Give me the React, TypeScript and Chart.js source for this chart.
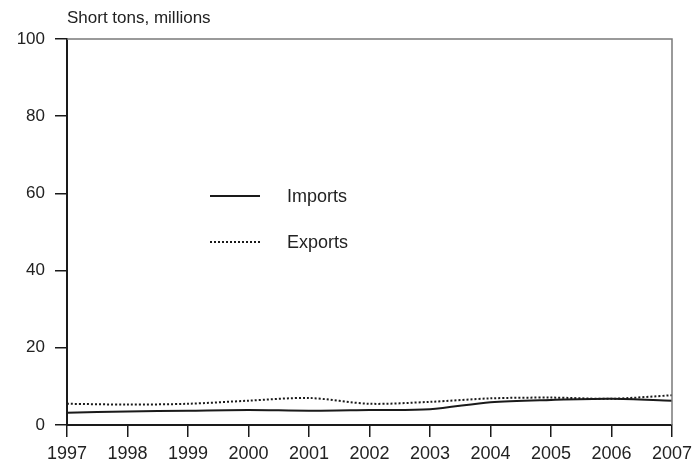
import React, { useEffect, useRef } from "react";
import { Chart, registerables } from "chart.js";

Chart.register(...registerables);

const years = ["1997", "1998", "1999", "2000", "2001", "2002", "2003", "2004", "2005", "2006", "2007"];
const imports = [3.2, 3.5, 3.7, 3.9, 3.7, 3.9, 4.1, 5.9, 6.5, 6.8, 6.3];
const exportsData = [5.5, 5.3, 5.5, 6.3, 7.0, 5.5, 6.0, 6.9, 7.1, 6.8, 7.7];
const yTicks = [0, 20, 40, 60, 80, 100];
const unitLabel = "Short tons, millions";
const legendLabels = ["Imports", "Exports"];

const FONT = "'Liberation Sans', Arial, sans-serif";

const decor = {
  id: "decor",
  afterDraw(chart: any) {
    const { ctx, chartArea } = chart;
    const { left, right, top, bottom } = chartArea;
    ctx.save();
    // top and right frame
    ctx.strokeStyle = "#7a7a7a";
    ctx.lineWidth = 1.5;
    ctx.beginPath();
    ctx.moveTo(left, top);
    ctx.lineTo(right, top);
    ctx.lineTo(right, bottom);
    ctx.stroke();
    // unit label
    ctx.fillStyle = "#222";
    ctx.font = `17px ${FONT}`;
    ctx.textBaseline = "middle";
    ctx.textAlign = "left";
    ctx.fillText(unitLabel, 67, 18);
    // legend
    const ys = [196, 242];
    ys.forEach((y, i) => {
      ctx.strokeStyle = "#1a1a1a";
      ctx.lineWidth = 2;
      ctx.setLineDash(i === 0 ? [] : [2, 2]);
      ctx.beginPath();
      ctx.moveTo(210, y);
      ctx.lineTo(260, y);
      ctx.stroke();
      ctx.setLineDash([]);
      ctx.font = `18px ${FONT}`;
      ctx.fillStyle = "#222";
      ctx.fillText(legendLabels[i], 287, y + 1);
    });
    ctx.restore();
  },
};

export default function App() {
  const ref = useRef<HTMLCanvasElement | null>(null);
  useEffect(() => {
    if (!ref.current) return;
    const chart = new Chart(ref.current, {
      type: "line",
      data: {
        labels: years,
        datasets: [
          {
            label: legendLabels[0],
            data: imports,
            borderColor: "#1a1a1a",
            borderWidth: 2,
            pointRadius: 0,
            tension: 0.3,
            fill: false,
          },
          {
            label: legendLabels[1],
            data: exportsData,
            borderColor: "#1a1a1a",
            borderWidth: 2,
            borderDash: [2, 2],
            pointRadius: 0,
            tension: 0.3,
            fill: false,
          },
        ],
      },
      options: {
        animation: false,
        responsive: false,
        maintainAspectRatio: false,
        layout: { padding: { top: 39, right: 22, left: 0, bottom: 0 } },
        plugins: { legend: { display: false }, tooltip: { enabled: false } },
        scales: {
          x: {
            offset: false,
            grid: { drawOnChartArea: false, drawTicks: true, tickLength: 12, color: "#1a1a1a", lineWidth: 1.5 },
            border: { color: "#1a1a1a", width: 2 },
            ticks: { color: "#222", font: { family: FONT, size: 18 }, padding: 6, maxRotation: 0, autoSkip: false },
            afterFit: (s: any) => { s.height = 38; s.paddingLeft = 0; s.paddingRight = 0; },
          },
          y: {
            min: 0,
            max: 100,
            afterBuildTicks: (s: any) => { s.ticks = yTicks.map((v) => ({ value: v })); },
            grid: { drawOnChartArea: false, drawTicks: true, tickLength: 12, color: "#1a1a1a", lineWidth: 1.5 },
            border: { color: "#1a1a1a", width: 2 },
            ticks: { color: "#222", font: { family: FONT, size: 17 }, padding: 10 },
            afterFit: (s: any) => { s.width = 67; s.paddingTop = 0; s.paddingBottom = 0; },
          },
        },
      },
      plugins: [decor],
    });
    return () => chart.destroy();
  }, []);
  return (
    <div style={{ position: "fixed", left: 0, top: 0, width: 694, height: 463, background: "#fff" }}>
      <canvas ref={ref} width={694} height={463} />
    </div>
  );
}
